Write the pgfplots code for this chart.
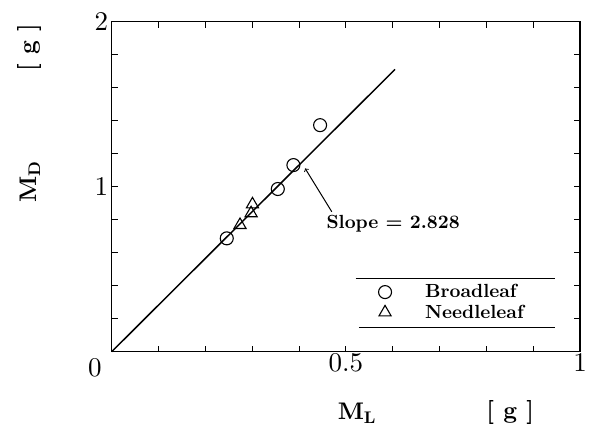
\documentclass[border=0pt]{standalone}
\usepackage{fontspec}
\setmainfont{lmroman10-regular}[Extension=.otf, BoldFont=lmroman10-bold]
\usepackage{pgfplots}
\pgfplotsset{compat=1.18}
\begin{document}
\begin{tikzpicture}
\useasboundingbox (-111.7pt,-84.3pt) rectangle (477.3pt,351.7pt);
\begin{axis}[
  at={(0pt,0pt)}, anchor=south west,
  scale only axis, width=468.3pt, height=330pt,
  xmin=0, xmax=1, ymin=0, ymax=2,
  xtick={0.5,1}, xticklabels={0.5,1},
  minor xtick={0.1,0.2,0.3,0.4,0.6,0.7,0.8,0.9},
  ytick={1,2}, yticklabels={1,2},
  minor ytick={0.2,0.4,0.6,0.8,1.2,1.4,1.6,1.8},
  tick align=inside,
  major tick length=6pt, minor tick length=6pt,
  every tick/.style={black, line width=0.9pt},
  axis line style={line width=1.6pt},
  /pgf/number format/assume math mode=true,
  tick label style={font=\fontsize{27}{30}\selectfont},
  xticklabel style={yshift=2pt},
  clip=false,
  legend cell align=left,
  legend style={at={(axis cs:0.563,0.168)}, anchor=south west, draw=none, fill=none,
    font=\fontsize{19}{21}\selectfont\bfseries, row sep=1.5pt},
  mylegend/.style={legend image code/.code={\draw[##1] plot coordinates {(0pt,0pt)}; \path[draw=none] (-6pt,0pt) -- (38pt,0pt);}},
]
\addplot[only marks, mylegend, mark=o, mark size=6.5pt, black, line width=1.1pt] coordinates {
(0.2457,0.687) (0.3547,0.986) (0.388,1.131) (0.445,1.373)};
\addlegendentry{Broadleaf}
\addplot[only marks, mylegend, mark=triangle, mark size=7pt, black, line width=1.1pt] coordinates {
(0.274,0.768) (0.2977,0.839) (0.3006,0.893)};
\addlegendentry{Needleleaf}
\addplot[black, line width=1.5pt, forget plot] coordinates {(0,0) (0.605,1.711)};
\draw[line width=1.4pt] (axis cs:0.521,0.445) -- (axis cs:0.947,0.445);
\draw[line width=1.4pt] (axis cs:0.528,0.148) -- (axis cs:0.947,0.148);
\draw[->, line width=1pt] (axis cs:0.47,0.848) -- (axis cs:0.413,1.111);
\node[font=\fontsize{19}{21}\selectfont\bfseries] at (axis cs:0.601,0.774) {Slope = 2.828};
\node[font=\fontsize{27}{30}\selectfont] at (axis cs:-0.0357,-0.0988) {0};
\node[rotate=90, font=\fontsize{24}{26}\selectfont\bfseries] at (axis cs:-0.1745,1.841) {[ g ]};
\node[rotate=90, font=\fontsize{24}{26}\selectfont\bfseries] at (axis cs:-0.1745,1.028) {M\textsubscript{D}};
\node[font=\fontsize{24}{26}\selectfont\bfseries] at (axis cs:0.5237,-0.3715) {M\textsubscript{L}};
\node[font=\fontsize{24}{26}\selectfont\bfseries] at (axis cs:0.851,-0.3715) {[ g ]};
\end{axis}
\end{tikzpicture}
\end{document}
